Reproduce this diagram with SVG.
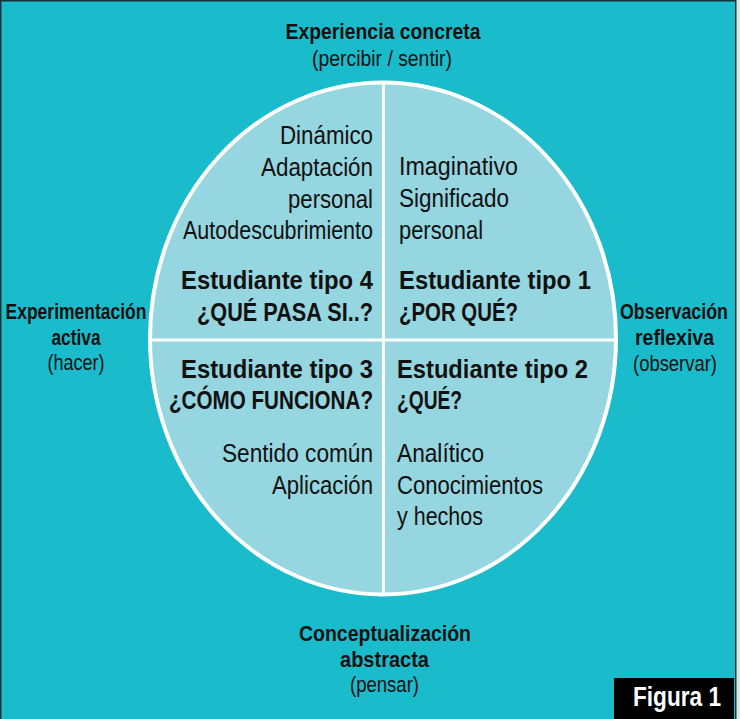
<svg xmlns="http://www.w3.org/2000/svg" width="740" height="719" viewBox="0 0 740 719">
<style>
  .r { font-family: "Liberation Sans", Arial, sans-serif; font-size: 26.5px; fill: #111; }
  .b { font-family: "Liberation Sans", Arial, sans-serif; font-size: 26.5px; font-weight: bold; fill: #111; }
  .sb { font-family: "Liberation Sans", Arial, sans-serif; font-size: 22px; font-weight: bold; fill: #111; }
  .sr { font-family: "Liberation Sans", Arial, sans-serif; font-size: 22px; fill: #111; }
  .e { text-anchor: end; }
  .m { text-anchor: middle; }
</style>
<rect x="0" y="0" width="740" height="719" fill="#dfe6e7"/>
<rect x="0.75" y="0.75" width="735" height="719" fill="#1abccc" stroke="#16333a" stroke-width="1.5"/>

<g id="circle">
  <ellipse cx="383" cy="338.5" rx="233" ry="256" fill="#95d6e0" stroke="#ffffff" stroke-width="4"/>
</g>
<g id="connectors" stroke="#ffffff" stroke-width="3">
  <line x1="383.5" y1="83" x2="383.5" y2="594"/>
  <line x1="151" y1="340" x2="615" y2="340"/>
</g>

<g id="top-label">
  <text class="sb m" x="383" y="39" textLength="195" lengthAdjust="spacingAndGlyphs">Experiencia concreta</text>
  <text class="sr m" x="382" y="66" textLength="140" lengthAdjust="spacingAndGlyphs">(percibir / sentir)</text>
</g>

<g id="left-label">
  <text class="sb m" x="76" y="319" textLength="141" lengthAdjust="spacingAndGlyphs">Experimentación</text>
  <text class="sb m" x="76" y="345" textLength="49" lengthAdjust="spacingAndGlyphs">activa</text>
  <text class="sr m" x="76" y="370" textLength="57" lengthAdjust="spacingAndGlyphs">(hacer)</text>
</g>

<g id="right-label">
  <text class="sb m" x="674" y="319" textLength="108" lengthAdjust="spacingAndGlyphs">Observación</text>
  <text class="sb m" x="674.5" y="345" textLength="79" lengthAdjust="spacingAndGlyphs">reflexiva</text>
  <text class="sr m" x="675" y="371" textLength="84" lengthAdjust="spacingAndGlyphs">(observar)</text>
</g>

<g id="bottom-label">
  <text class="sb m" x="385" y="641" textLength="172" lengthAdjust="spacingAndGlyphs">Conceptualización</text>
  <text class="sb m" x="384.5" y="667" textLength="89" lengthAdjust="spacingAndGlyphs">abstracta</text>
  <text class="sr m" x="384.5" y="692" textLength="69" lengthAdjust="spacingAndGlyphs">(pensar)</text>
</g>

<g id="quadrant-4">
  <text class="r e" x="373" y="144" textLength="93" lengthAdjust="spacingAndGlyphs">Dinámico</text>
  <text class="r e" x="373" y="176" textLength="112" lengthAdjust="spacingAndGlyphs">Adaptación</text>
  <text class="r e" x="373" y="208" textLength="85" lengthAdjust="spacingAndGlyphs">personal</text>
  <text class="r e" x="373" y="239" textLength="190" lengthAdjust="spacingAndGlyphs">Autodescubrimiento</text>
  <text class="b e" x="373" y="289" textLength="192" lengthAdjust="spacingAndGlyphs">Estudiante tipo 4</text>
  <text class="b e" x="373" y="321" textLength="176" lengthAdjust="spacingAndGlyphs">¿QUÉ PASA SI..?</text>
</g>

<g id="quadrant-1">
  <text class="r" x="399" y="175" textLength="119" lengthAdjust="spacingAndGlyphs">Imaginativo</text>
  <text class="r" x="399" y="207" textLength="110" lengthAdjust="spacingAndGlyphs">Significado</text>
  <text class="r" x="399" y="239" textLength="84" lengthAdjust="spacingAndGlyphs">personal</text>
  <text class="b" x="399" y="289" textLength="192" lengthAdjust="spacingAndGlyphs">Estudiante tipo 1</text>
  <text class="b" x="399" y="321" textLength="119" lengthAdjust="spacingAndGlyphs">¿POR QUÉ?</text>
</g>

<g id="quadrant-3">
  <text class="b e" x="373" y="378" textLength="192" lengthAdjust="spacingAndGlyphs">Estudiante tipo 3</text>
  <text class="b e" x="373" y="409" textLength="204" lengthAdjust="spacingAndGlyphs">¿CÓMO FUNCIONA?</text>
  <text class="r e" x="373" y="462" textLength="151" lengthAdjust="spacingAndGlyphs">Sentido común</text>
  <text class="r e" x="373" y="494" textLength="101" lengthAdjust="spacingAndGlyphs">Aplicación</text>
</g>

<g id="quadrant-2">
  <text class="b" x="397" y="378" textLength="191" lengthAdjust="spacingAndGlyphs">Estudiante tipo 2</text>
  <text class="b" x="397" y="409" textLength="65" lengthAdjust="spacingAndGlyphs">¿QUÉ?</text>
  <text class="r" x="397" y="462" textLength="87" lengthAdjust="spacingAndGlyphs">Analítico</text>
  <text class="r" x="397" y="494" textLength="146" lengthAdjust="spacingAndGlyphs">Conocimientos</text>
  <text class="r" x="397" y="525" textLength="86" lengthAdjust="spacingAndGlyphs">y hechos</text>
</g>

<g id="figure-label">
  <rect x="614" y="678" width="120" height="41" fill="#000000"/>
  <text x="633" y="706" font-family="'Liberation Sans', Arial, sans-serif" font-size="27" font-weight="bold" fill="#ffffff" textLength="88" lengthAdjust="spacingAndGlyphs">Figura 1</text>
</g>
</svg>
